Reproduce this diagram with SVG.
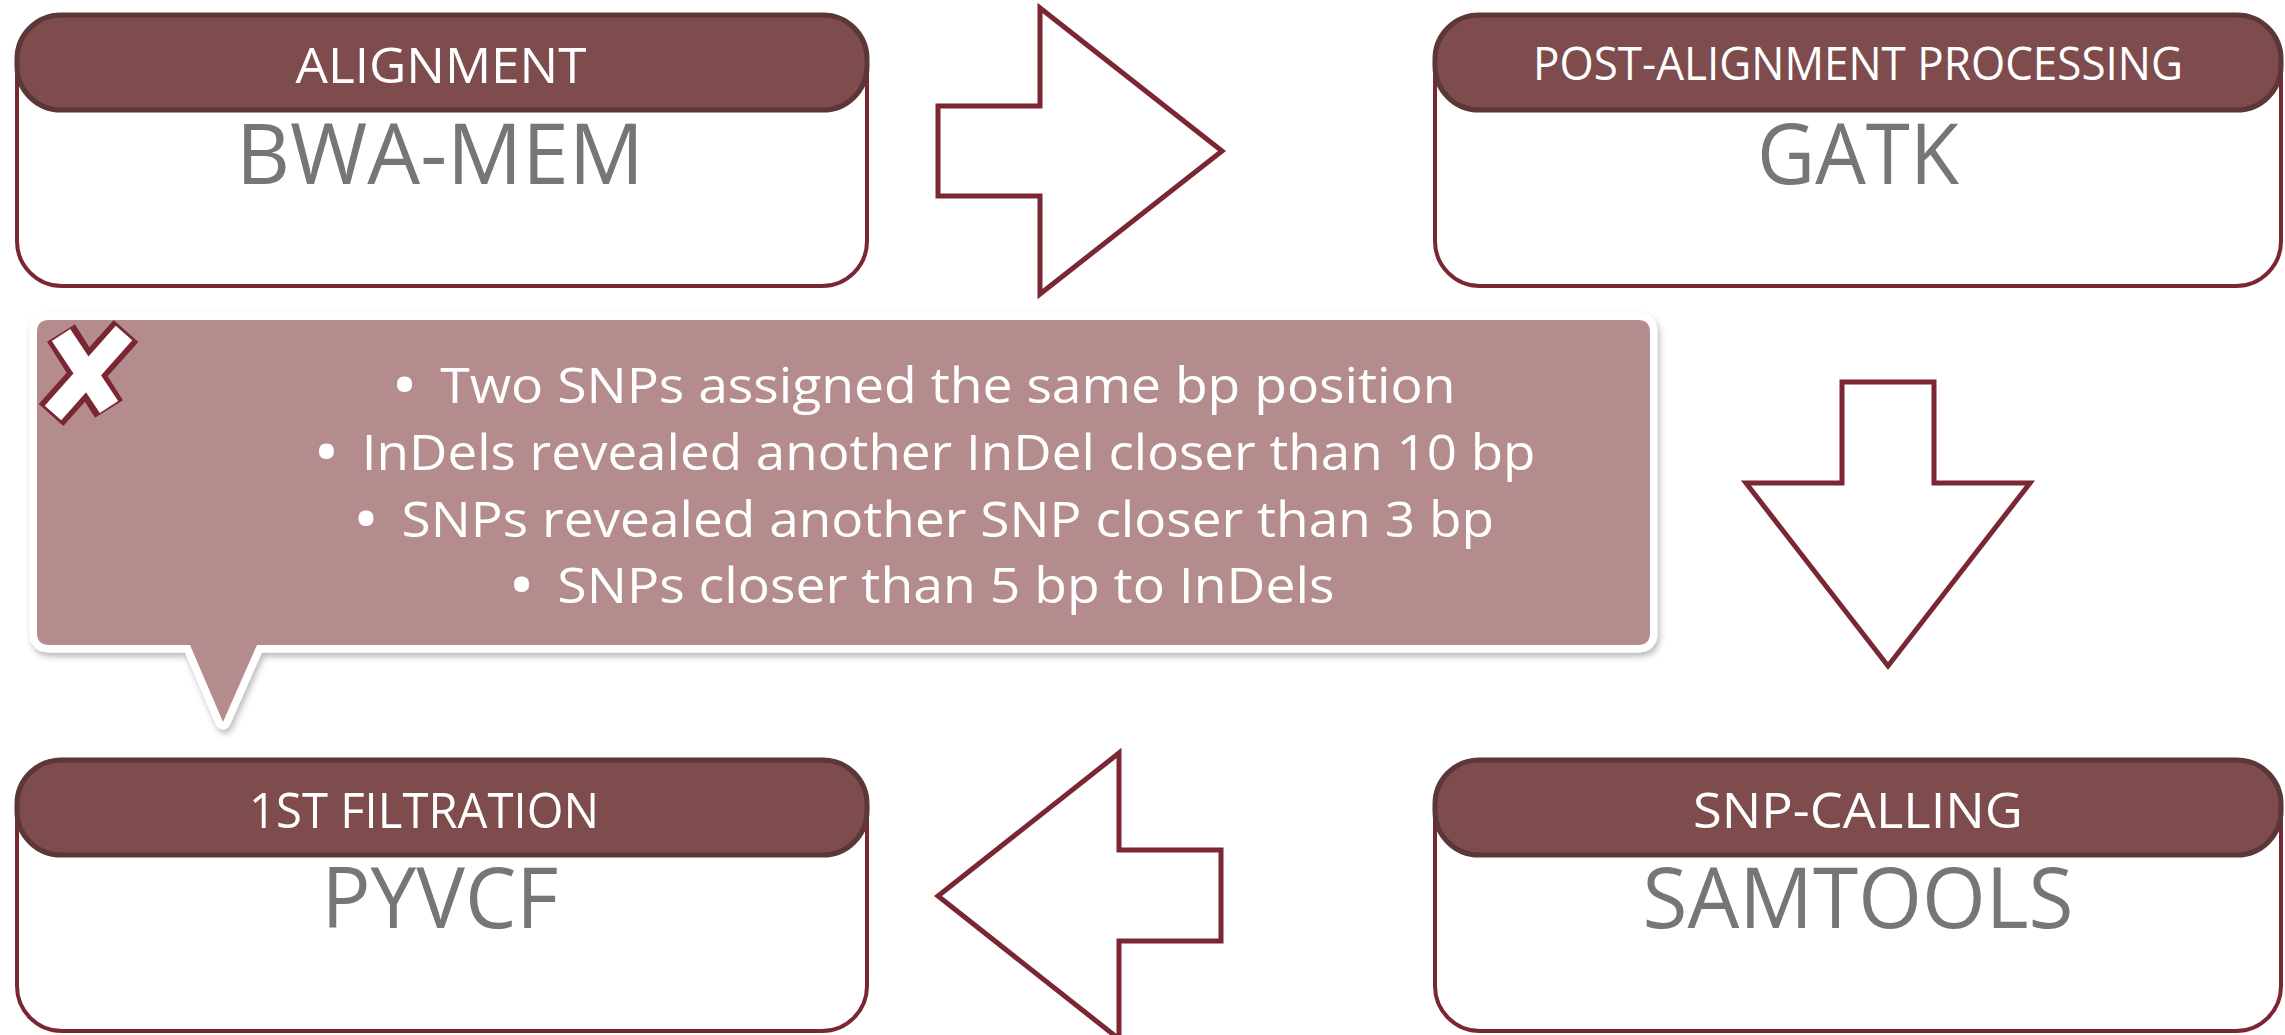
<svg xmlns="http://www.w3.org/2000/svg" width="2285" height="1035" viewBox="0 0 2285 1035">
  <defs>
    <style>
      .box { fill: #ffffff; stroke: #7b2633; stroke-width: 4; }
      .hdr { fill: #7e4c4c; stroke: #5b3737; stroke-width: 5; }
      .hdr-text { font-family: "Open Sans", "Noto Sans", sans-serif; fill: #ffffff; text-anchor: middle; }
      .tool-text { font-family: "Open Sans", "Noto Sans", sans-serif; fill: #767676; font-size: 84px; text-anchor: middle; }
      .arrow { fill: #ffffff; stroke: #7b2633; stroke-width: 5; stroke-linejoin: miter; }
      .note-text { font-family: "Open Sans", "Noto Sans", sans-serif; fill: #ffffff; font-size: 50px; text-anchor: middle; }
    </style>
    <filter id="soft-shadow" x="-5%" y="-10%" width="110%" height="125%">
      <feDropShadow dx="2" dy="4" stdDeviation="3" flood-color="#000000" flood-opacity="0.28"/>
    </filter>
  </defs>

  <rect width="2285" height="1035" fill="#ffffff"/>

  <!-- process arrows -->
  <g id="connectors">
    <polygon class="arrow" points="938,106 1040,106 1040,8 1222,151 1040,294 1040,196 938,196"/>
    <polygon class="arrow" points="1842,382 1934,382 1934,483 2030,483 1888,666 1746,483 1842,483"/>
    <polygon class="arrow" points="1221,850 1119,850 1119,753 938,896 1119,1039 1119,941 1221,941"/>
  </g>

  <!-- step 1 -->
  <g id="node-alignment">
    <rect class="box" x="17" y="15" width="850" height="271" rx="45" ry="45"/>
    <rect class="hdr" x="17" y="15" width="850" height="95" rx="44" ry="44"/>
    <text class="hdr-text" x="441" y="83" font-size="50" textLength="291" lengthAdjust="spacingAndGlyphs">ALIGNMENT</text>
    <text class="tool-text" x="440" y="184" textLength="408" lengthAdjust="spacingAndGlyphs">BWA-MEM</text>
  </g>

  <!-- step 2 -->
  <g id="node-post-alignment">
    <rect class="box" x="1435" y="15" width="846" height="271" rx="45" ry="45"/>
    <rect class="hdr" x="1435" y="15" width="846" height="95" rx="44" ry="44"/>
    <text class="hdr-text" x="1858" y="80" font-size="45" textLength="650" lengthAdjust="spacingAndGlyphs">POST-ALIGNMENT PROCESSING</text>
    <text class="tool-text" x="1858" y="184" textLength="202" lengthAdjust="spacingAndGlyphs">GATK</text>
  </g>

  <!-- step 3 -->
  <g id="node-snp-calling">
    <rect class="box" x="1435" y="760" width="846" height="271" rx="45" ry="45"/>
    <rect class="hdr" x="1435" y="760" width="846" height="95" rx="44" ry="44"/>
    <text class="hdr-text" x="1858" y="828" font-size="50" textLength="330" lengthAdjust="spacingAndGlyphs">SNP-CALLING</text>
    <text class="tool-text" x="1858" y="928" textLength="431" lengthAdjust="spacingAndGlyphs">SAMTOOLS</text>
  </g>

  <!-- step 4 -->
  <g id="node-filtration">
    <rect class="box" x="17" y="760" width="850" height="271" rx="45" ry="45"/>
    <rect class="hdr" x="17" y="760" width="850" height="95" rx="44" ry="44"/>
    <text class="hdr-text" x="424" y="828" font-size="50" textLength="350" lengthAdjust="spacingAndGlyphs">1ST FILTRATION</text>
    <text class="tool-text" x="440" y="928" textLength="237" lengthAdjust="spacingAndGlyphs">PYVCF</text>
  </g>

  <!-- callout listing the filtering criteria -->
  <g id="callout-filters">
    <path d="M49,320 H1638 Q1650,320 1650,332 V633 Q1650,645 1638,645 H257 L223,722 L190,645 H49 Q37,645 37,633 V332 Q37,320 49,320 Z"
          fill="#b58c8d" stroke="#ffffff" stroke-width="15" stroke-linejoin="round" paint-order="stroke" filter="url(#soft-shadow)"/>
    <!-- cross mark -->
    <g stroke-linecap="butt">
      <path d="M61,333 L109,409 M126,331 L51,415" stroke="#7b2633" stroke-width="33" fill="none"/>
      <path d="M61,335 L109,407 M124,333 L53,413" stroke="#ffffff" stroke-width="22" fill="none"/>
    </g>
    <text class="note-text" x="925" y="403" textLength="1061" lengthAdjust="spacingAndGlyphs"><tspan font-weight="bold">•</tspan><tspan dx="24">Two SNPs assigned the same bp position</tspan></text>
    <text class="note-text" x="926" y="470" textLength="1219" lengthAdjust="spacingAndGlyphs"><tspan font-weight="bold">•</tspan><tspan dx="24">InDels revealed another InDel closer than 10 bp</tspan></text>
    <text class="note-text" x="925" y="537" textLength="1138" lengthAdjust="spacingAndGlyphs"><tspan font-weight="bold">•</tspan><tspan dx="24">SNPs revealed another SNP closer than 3 bp</tspan></text>
    <text class="note-text" x="923" y="603" textLength="823" lengthAdjust="spacingAndGlyphs"><tspan font-weight="bold">•</tspan><tspan dx="24">SNPs closer than 5 bp to InDels</tspan></text>
  </g>
</svg>
